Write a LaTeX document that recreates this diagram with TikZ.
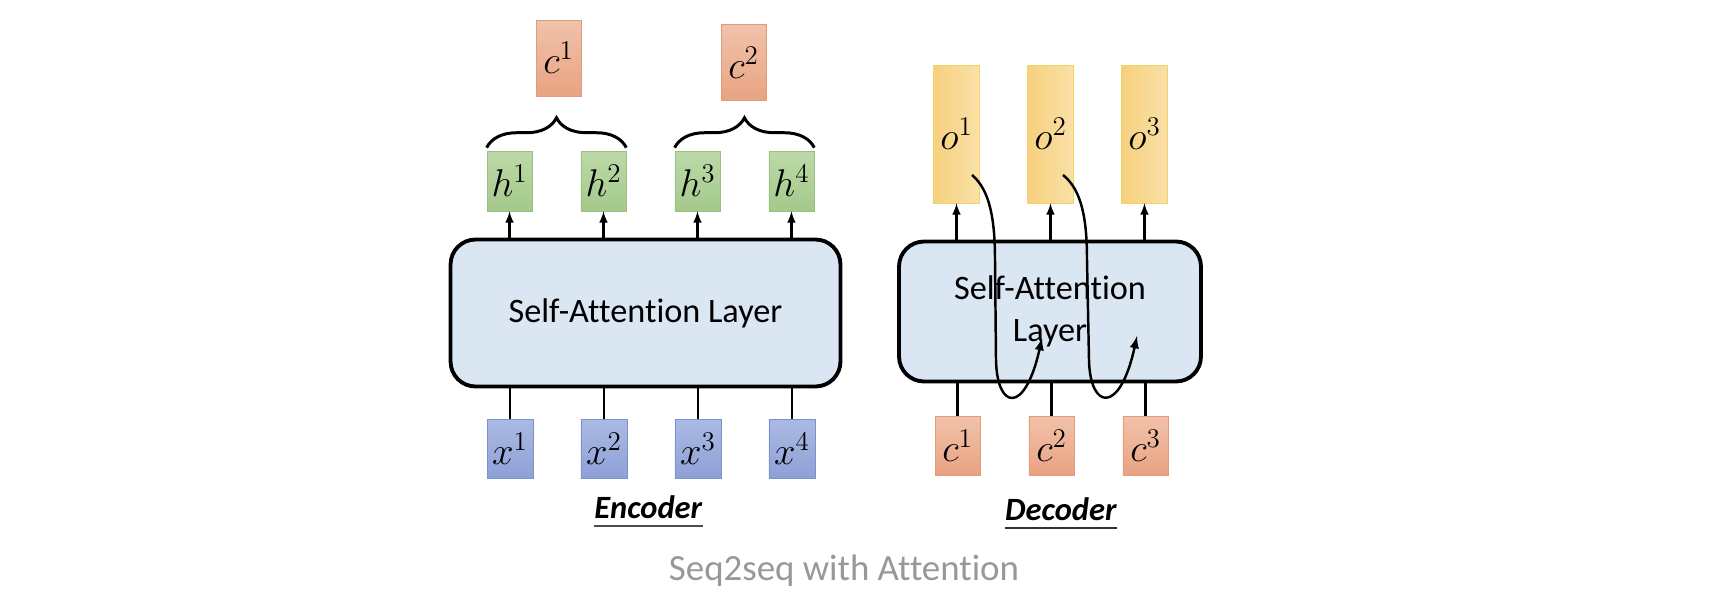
\RequirePackage{fix-cm}
\documentclass[tikz,border=0pt]{standalone}
\usepackage{amsmath}
\usepackage{fontspec}
\setmainfont{Carlito}[Ligatures=NoCommon]
\usepackage{xcolor}
\usetikzlibrary{arrows, decorations.pathreplacing}

\definecolor{htop}{RGB}{188,218,168}
\definecolor{hbottom}{RGB}{164,201,139}
\definecolor{hborder}{RGB}{156,192,132}
\definecolor{xtop}{RGB}{171,186,228}
\definecolor{xbottom}{RGB}{142,161,214}
\definecolor{xborder}{RGB}{126,145,204}
\definecolor{ctop}{RGB}{241,194,170}
\definecolor{cbottom}{RGB}{232,163,130}
\definecolor{cborder}{RGB}{226,156,122}
\definecolor{oleft}{RGB}{246,208,126}
\definecolor{oright}{RGB}{250,225,168}
\definecolor{oborder}{RGB}{243,210,104}
\definecolor{layerblue}{RGB}{219,230,243}
\definecolor{titlegray}{RGB}{152,152,152}

\begin{document}
\begin{tikzpicture}[x=0.02 cm, y=-0.02 cm, node distance=1.88 cm, decoration={brace}]
\tikzstyle{hidvec} = [rectangle, minimum width=0.9 cm, minimum height=1.2 cm, inner sep=1 pt, text centered, draw=hborder, top color=htop, bottom color=hbottom, font=\fontsize{22}{26}\selectfont]
\tikzstyle{invec} = [rectangle, minimum width=0.92 cm, minimum height=1.18 cm, inner sep=1 pt, text centered, draw=xborder, top color=xtop, bottom color=xbottom, font=\fontsize{22}{26}\selectfont]
\tikzstyle{ctxvec} = [rectangle, minimum width=0.9 cm, minimum height=1.18 cm, inner sep=1 pt, text centered, draw=cborder, top color=ctop, bottom color=cbottom, font=\fontsize{22}{26}\selectfont]
\tikzstyle{outvec} = [rectangle, minimum width=0.92 cm, minimum height=2.76 cm, inner sep=1 pt, text centered, draw=oborder, left color=oleft, right color=oright, font=\fontsize{22}{26}\selectfont]
\tikzstyle{attnlayer} = [rectangle, rounded corners=0.5 cm, draw=black, line width=2.2 pt, fill=layerblue, align=center, font=\fontsize{19.5}{23.5}\selectfont]
\tikzstyle{partname} = [inner sep=0 pt, anchor=base, font=\fontsize{18.5}{22}\selectfont]
\tikzstyle{figtitle} = [inner sep=0 pt, anchor=base, text=titlegray, font=\fontsize{21}{25}\selectfont]

\useasboundingbox (0,0) rectangle (1728,602);

\node (enc) [attnlayer, minimum width=7.8 cm, minimum height=2.94 cm] at (645.5,313) {Self-Attent\kern0pt ion Layer};
\node (h1) [hidvec] at (509.5,181) {$h^1$};
\node (h2) [hidvec, right of=h1] {$h^2$};
\node (h3) [hidvec, right of=h2] {$h^3$};
\node (h4) [hidvec, right of=h3] {$h^4$};
\node (x1) [invec] at (510,448.5) {$x^1$};
\node (x2) [invec, right of=x1] {$x^2$};
\node (x3) [invec, right of=x2] {$x^3$};
\node (x4) [invec, right of=x3] {$x^4$};
\node (c1) [ctxvec, minimum height=1.52 cm] at (558.5,58) {$c^1$};
\node (c2) [ctxvec, minimum height=1.52 cm] at (743.5,62.5) {$c^2$};

\node (dec) [attnlayer, minimum width=6.04 cm, minimum height=2.8 cm] at (1050,311.5) {Self-Attent\kern0pt ion\\Layer};
\node (o1) [outvec] at (956.5,134) {$o^1$};
\node (o2) [outvec, right of=o1] {$o^2$};
\node (o3) [outvec, right of=o2] {$o^3$};
\node (d1) [ctxvec] at (957.5,445.5) {$c^1$};
\node (d2) [ctxvec, right of=d1] {$c^2$};
\node (d3) [ctxvec, right of=d2] {$c^3$};

\node (enclabel) [partname] at (648.5,518) {\textbf{\textit{Encoder}}};
\node (declabel) [partname] at (1061,520) {\textbf{\textit{Decoder}}};
\node (title) [figtitle] at (844,580) {Seq2seq with Attent\kern0pt ion};

\draw [line width=0.8 pt, black!70] ([yshift=-4.5 pt]enclabel.base west) -- ([yshift=-4.5 pt]enclabel.base east);
\draw [line width=0.8 pt, black!80] ([yshift=-4.5 pt]declabel.base west) -- ([yshift=-4.5 pt]declabel.base east);

\draw [-latex, line width=1.2 pt] (enc.north -| h1.south) -- (h1.south);
\draw [-latex, line width=1.2 pt] (enc.north -| h2.south) -- (h2.south);
\draw [-latex, line width=1.2 pt] (enc.north -| h3.south) -- (h3.south);
\draw [-latex, line width=1.2 pt] (enc.north -| h4.south) -- (h4.south);
\draw [line width=1.2 pt] (x1.north) -- (enc.south -| x1.north);
\draw [line width=1.2 pt] (x2.north) -- (enc.south -| x2.north);
\draw [line width=1.2 pt] (x3.north) -- (enc.south -| x3.north);
\draw [line width=1.2 pt] (x4.north) -- (enc.south -| x4.north);

\draw [decoration={brace, raise=1.7 pt, amplitude=17 pt}, decorate, line width=1.7 pt] (h1.north west) -- (h2.north east);
\draw [decoration={brace, raise=1.7 pt, amplitude=17 pt}, decorate, line width=1.7 pt] (h3.north west) -- (h4.north east);

\draw [-latex, line width=1.2 pt] (dec.north -| o1.south) -- (o1.south);
\draw [-latex, line width=1.2 pt] (dec.north -| o2.south) -- (o2.south);
\draw [-latex, line width=1.2 pt] (dec.north -| o3.south) -- (o3.south);
\draw [line width=1.2 pt] (d1.north) -- (dec.south -| d1.north);
\draw [line width=1.2 pt] (d2.north) -- (dec.south -| d2.north);
\draw [line width=1.2 pt] (d3.north) -- (dec.south -| d3.north);

\coordinate (q1) at (972,175);
\coordinate (k1) at (1042,338);
\coordinate (q2) at (1063,175);
\coordinate (k2) at (1137,336);
\draw [-latex, line width=1.4 pt] (q1) .. controls (990,190) and (995,220) .. (995,260) -- (996,360) .. controls (997,410) and (1025,415) .. (k1);
\draw [-latex, line width=1.4 pt] (q2) .. controls (1082,190) and (1087,220) .. (1087,260) -- (1089,360) .. controls (1090,410) and (1120,415) .. (k2);

\end{tikzpicture}
\end{document}
